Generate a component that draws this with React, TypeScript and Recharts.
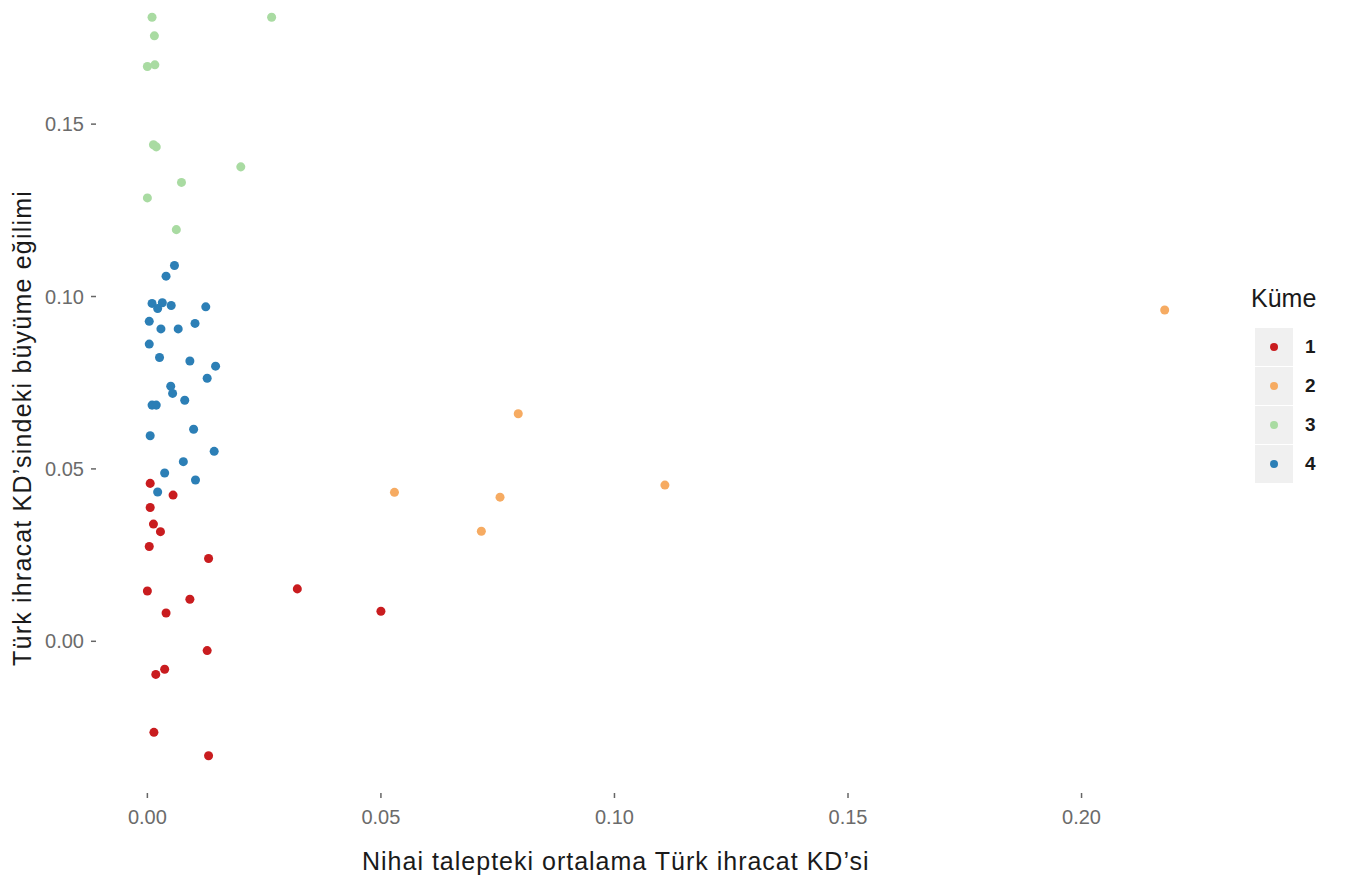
import React from "react";
import { ScatterChart, Scatter, XAxis, YAxis } from "recharts";

// Küme 1..4 — x: nihai talepteki ortalama KD, y: büyüme eğilimi
const kume1X = [0.0006, 0.0055, 0.0006, 0.0013, 0.0028, 0.0004, 0.0131, 0.0, 0.0321, 0.0091, 0.004, 0.05, 0.0128, 0.0037, 0.0018, 0.0014, 0.0131];
const kume1Y = [0.0458, 0.0424, 0.0388, 0.034, 0.0318, 0.0275, 0.024, 0.0146, 0.0152, 0.0122, 0.0082, 0.0087, -0.0027, -0.0081, -0.0096, -0.0264, -0.0332];

const kume2X = [0.0794, 0.0529, 0.0755, 0.0715, 0.1108, 0.2178];
const kume2Y = [0.066, 0.0432, 0.0418, 0.0319, 0.0453, 0.0961];

const kume3X = [0.001, 0.0266, 0.0015, 0.0, 0.0016, 0.0013, 0.0019, 0.02, 0.0073, 0.0, 0.0062];
const kume3Y = [0.181, 0.181, 0.1756, 0.1667, 0.1672, 0.144, 0.1434, 0.1376, 0.1331, 0.1286, 0.1194];

const kume4X = [
  0.0058, 0.004, 0.001, 0.0022, 0.0032, 0.0051, 0.0125, 0.0004, 0.0029, 0.0066,
  0.0102, 0.0004, 0.0026, 0.0091, 0.0146, 0.0128, 0.005, 0.0054, 0.008, 0.001,
  0.0019, 0.0006, 0.0099, 0.0143, 0.0077, 0.0037, 0.0103, 0.0022,
];
const kume4Y = [
  0.109, 0.1059, 0.098, 0.0965, 0.0982, 0.0974, 0.097, 0.0928, 0.0906, 0.0906,
  0.0922, 0.0862, 0.0823, 0.0813, 0.0798, 0.0763, 0.074, 0.0719, 0.0699, 0.0685,
  0.0685, 0.0596, 0.0615, 0.0551, 0.0521, 0.0488, 0.0468, 0.0433,
];

const xTicks = [0, 0.05, 0.1, 0.15, 0.2];
const yTicks = [0, 0.05, 0.1, 0.15];

const clusters = [
  { name: "1", color: "#c91c1f", xs: kume1X, ys: kume1Y },
  { name: "2", color: "#f6ab62", xs: kume2X, ys: kume2Y },
  { name: "3", color: "#a9dba2", xs: kume3X, ys: kume3Y },
  { name: "4", color: "#2c7fb6", xs: kume4X, ys: kume4Y },
];

const FONT = "'Liberation Sans', Arial, Helvetica, sans-serif";

const tickStyle = { fontSize: 20, fill: "#6b6b6b", fontFamily: FONT };

export default function App() {
  return (
    <div
      style={{
        position: "absolute",
        left: 0,
        top: 0,
        width: 1345,
        height: 884,
        background: "#ffffff",
        fontFamily: FONT,
        overflow: "hidden",
      }}
    >
      <ScatterChart width={1345} height={884} margin={{ top: 0, right: 128, bottom: 0, left: 0 }}>
        <XAxis
          type="number"
          dataKey="x"
          domain={[-0.011, 0.229]}
          ticks={xTicks}
          tickFormatter={(v: number) => v.toFixed(2)}
          height={91}
          axisLine={false}
          tickLine={{ stroke: "#666666", strokeWidth: 1.5 }}
          tickSize={5}
          tickMargin={12}
          tick={tickStyle}
          allowDataOverflow
        />
        <YAxis
          type="number"
          dataKey="y"
          domain={[-0.044, 0.186]}
          ticks={yTicks}
          tickFormatter={(v: number) => v.toFixed(2)}
          width={96}
          axisLine={false}
          tickLine={{ stroke: "#666666", strokeWidth: 1.5 }}
          tickSize={5}
          tickMargin={7}
          tick={tickStyle}
          allowDataOverflow
        />
        {clusters.map((c) => (
          <Scatter
            key={c.name}
            name={c.name}
            data={c.xs.map((x, i) => ({ x, y: c.ys[i] }))}
            fill={c.color}
            isAnimationActive={false}
          />
        ))}
      </ScatterChart>

      {/* axis titles */}
      <div
        style={{
          position: "absolute",
          left: 362,
          top: 846,
          fontSize: 25,
          letterSpacing: 1.0,
          color: "#1a1a1a",
          whiteSpace: "nowrap",
          lineHeight: "30px",
        }}
      >
        Nihai talepteki ortalama Türk ihracat KD’si
      </div>
      <div
        style={{
          position: "absolute",
          left: 22,
          top: 428,
          fontSize: 25,
          letterSpacing: 1.2,
          color: "#1a1a1a",
          whiteSpace: "nowrap",
          lineHeight: "30px",
          transform: "translate(-50%, -50%) rotate(-90deg)",
        }}
      >
        Türk ihracat KD’sindeki büyüme eğilimi
      </div>

      {/* legend */}
      <div style={{ position: "absolute", left: 1251, top: 283 }}>
        <div style={{ fontSize: 25, color: "#1a1a1a", lineHeight: "30px", marginBottom: 14 }}>Küme</div>
        {clusters.map((c) => (
          <div key={c.name} style={{ display: "flex", alignItems: "center", height: 39 }}>
            <div
              style={{
                width: 38,
                height: 38,
                marginLeft: 4,
                background: "#f0f0f0",
                display: "flex",
                alignItems: "center",
                justifyContent: "center",
              }}
            >
              <div style={{ width: 8, height: 8, borderRadius: 4, background: c.color }} />
            </div>
            <div style={{ marginLeft: 12, fontSize: 19, fontWeight: 600, color: "#1a1a1a" }}>{c.name}</div>
          </div>
        ))}
      </div>
    </div>
  );
}
